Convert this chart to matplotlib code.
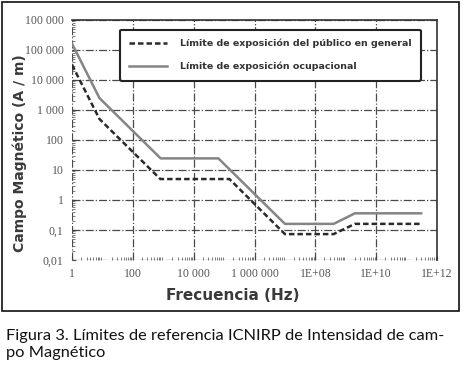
import matplotlib
matplotlib.use('Agg')
import matplotlib.pyplot as plt
from matplotlib.ticker import FixedLocator, LogLocator, NullFormatter
from matplotlib.patches import Rectangle

# ICNIRP reference levels, magnetic field strength H (A/m)
f_ocup = [1, 8, 820, 65000, 1e7, 4e8, 2e9, 3e11]
h_ocup = [1.63e5, 2500, 24.4, 24.4, 0.16, 0.16, 0.36, 0.36]

f_pub = [1, 8, 800, 150000, 1e7, 4e8, 2e9, 3e11]
h_pub = [3.2e4, 500, 5, 5, 0.073, 0.073, 0.16, 0.16]

x_ticks = [1, 1e2, 1e4, 1e6, 1e8, 1e10, 1e12]
x_labels = ['1', '100', '10 000', '1 000 000', '1E+08', '1E+10', '1E+12']
y_ticks = [1e-2, 1e-1, 1, 10, 1e2, 1e3, 1e4, 1e5, 1e6]
y_labels = ['0,01', '0,1', '1', '10', '100', '1 000', '10 000', '100 000', '100 000']

W, H = 463, 367
fig = plt.figure(figsize=(W / 100, H / 100), dpi=100)

# outer frame around the chart
fig.patches.append(Rectangle((2 / W, 1 - 311 / H), 457 / W, 309 / H,
                             transform=fig.transFigure, fill=False,
                             edgecolor='#111111', lw=1.2))

ax = fig.add_axes([72 / W, 1 - 260 / H, (437 - 72) / W, 240 / H])
ax.set_xscale('log')
ax.set_yscale('log')
ax.set_xlim(1, 1e12)
ax.set_ylim(1e-2, 1e6)

ax.plot(f_pub, h_pub, color='#2a2a2a', lw=1.8, ls=(0, (2.2, 1.2)),
        label='Límite de exposición del público en general')
ax.plot(f_ocup, h_ocup, color='#858585', lw=1.8,
        label='Límite de exposición ocupacional')

ax.xaxis.set_major_locator(FixedLocator(x_ticks))
ax.set_xticklabels(x_labels)
ax.yaxis.set_major_locator(FixedLocator(y_ticks))
ax.set_yticklabels(y_labels)
ax.xaxis.set_minor_locator(LogLocator(base=10, subs=range(2, 10), numticks=30))
ax.yaxis.set_minor_locator(LogLocator(base=10, subs=range(2, 10), numticks=30))
ax.xaxis.set_minor_formatter(NullFormatter())
ax.yaxis.set_minor_formatter(NullFormatter())

ax.grid(which='major', color='#4a4a4a', ls='-.', lw=0.9)
ax.tick_params(which='major', direction='in', length=3, color='#444444',
               labelsize=8.5, labelcolor='#555555', pad=6,
               labelfontfamily='Liberation Serif')
ax.tick_params(which='minor', direction='in', length=2.5, color='#666666')

for s in ['left', 'bottom']:
    ax.spines[s].set_visible(False)
for s in ['top', 'right']:
    ax.spines[s].set_color('#333333')
    ax.spines[s].set_linewidth(1.2)

leg = ax.legend(loc='upper right', bbox_to_anchor=(0.97, 0.98),
                prop={'weight': 'bold', 'size': 6.8}, labelcolor='#333333',
                handlelength=4.0, handletextpad=1.4, borderpad=1.0,
                labelspacing=1.4, fancybox=True, framealpha=1)
leg.get_frame().set_edgecolor('#222222')
leg.get_frame().set_linewidth(1.5)

fig.text(20 / W, 1 - 153 / H, 'Campo Magnético (A / m)', rotation=90,
         ha='center', va='center', fontsize=10, fontweight='bold', color='#3a3a3a')
fig.text(233 / W, 1 - 295 / H, 'Frecuencia (Hz)', ha='center', va='center',
         fontsize=11, fontweight='bold', color='#3a3a3a')

fig.text(6 / W, 1 - 329 / H,
         'Figura 3. Límites de referencia ICNIRP de Intensidad de cam-\npo Magnético',
         ha='left', va='top', fontsize=11.8, color='#111111', linespacing=1.25,
         family='Lato')

fig.savefig('out.png', dpi=100)
